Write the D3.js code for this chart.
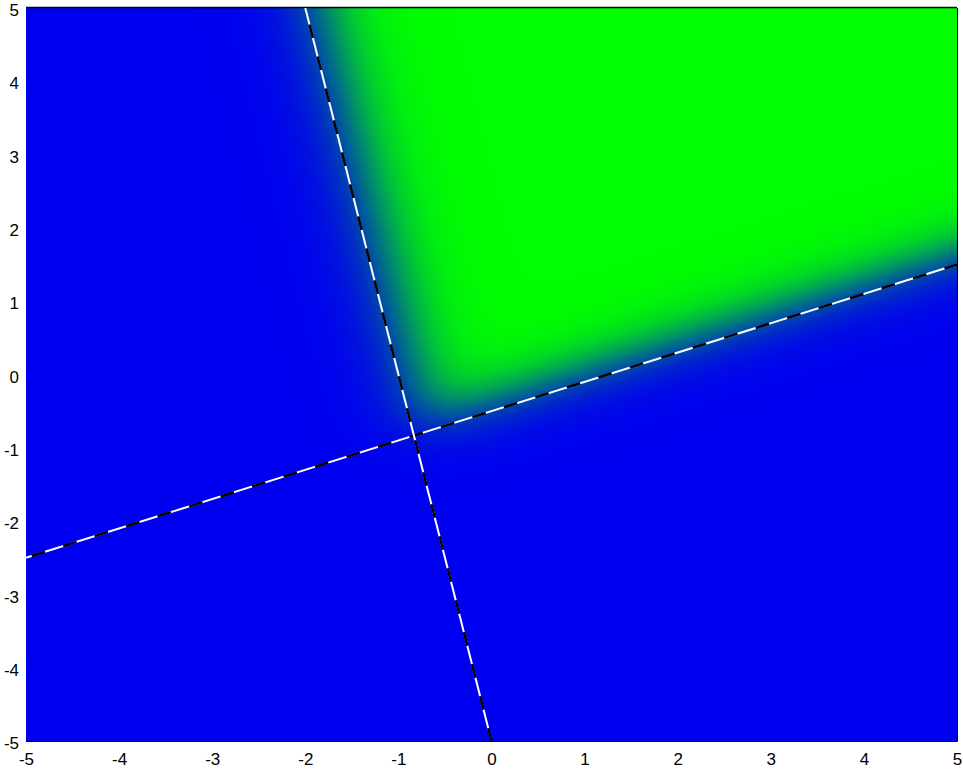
<!DOCTYPE html>
<meta charset="utf-8">
<style>
body { margin: 0; background: #fff; }
.axis text { font: 17px "Liberation Sans", Arial, sans-serif; fill: #000; }
.axis path, .axis line { stroke: #000; }
</style>
<body>
<script src="https://d3js.org/d3.v7.min.js"></script>
<script>

// tick values on both axes
const xTicks = [-5, -4, -3, -2, -1, 0, 1, 2, 3, 4, 5];
const yTicks = [-5, -4, -3, -2, -1, 0, 1, 2, 3, 4, 5];

// two hidden units: w . [x, y] + b = 0 is each dashed boundary
const hiddenW = [[-0.4, 1], [5, 1]];
const hiddenB = [0.5, 5];
const steep = [5.2, 4.6];
const shift = [0.17, 0.2];

// colours: output 0 -> blue, output 1 -> green
const lowColor = "#0000f0", highColor = "#00ff00";

const W = 963, H = 769;
const x = d3.scaleLinear().domain([-5, 5]).range([26, 957]);
const y = d3.scaleLinear().domain([-5, 5]).range([741, 8]);
const fmt = d => String(d);   // plain hyphen minus, as in the original

const svg = d3.select("body").append("svg")
    .attr("width", W).attr("height", H);

// axes first, the image sits over most of them
svg.append("g").attr("class", "axis")
    .attr("transform", "translate(0," + y(-5) + ")")
    .call(d3.axisBottom(x).tickValues(xTicks).tickFormat(fmt).tickSizeInner(-8).tickSizeOuter(0))
    .selectAll("text").attr("y", 24).attr("dy", 0);

svg.append("g").attr("class", "axis")
    .attr("transform", "translate(" + x(-5) + ",0)")
    .call(d3.axisLeft(y).tickValues(yTicks).tickFormat(fmt).tickSizeInner(-8).tickSizeOuter(0).tickPadding(7))
    .selectAll("text").attr("dy", "0.45em");

svg.append("g").attr("class", "axis")
    .attr("transform", "translate(0," + y(5) + ")")
    .call(d3.axisTop(x).tickValues(xTicks).tickSizeInner(-8).tickSizeOuter(0).tickFormat(""));
svg.append("g").attr("class", "axis")
    .attr("transform", "translate(" + x(5) + ",0)")
    .call(d3.axisRight(y).tickValues(yTicks).tickSizeInner(-8).tickSizeOuter(0).tickFormat(""));

// network output over the plane
const sigmoid = t => 1 / (1 + Math.exp(-t));
function output(px, py) {
  let p = 1;
  hiddenW.forEach((w, i) => {
    const d = (w[0] * px + w[1] * py + hiddenB[i]) / Math.hypot(w[0], w[1]);
    p *= sigmoid(steep[i] * (d - shift[i]));
  });
  return p;
}

const color = d3.interpolateRgb(lowColor, highColor);
const x0 = Math.round(x(-5)), x1 = Math.round(x(5)),
      y0 = Math.round(y(5)), y1 = Math.round(y(-5));
const cw = x1 - x0, ch = y1 - y0;
const canvas = document.createElement("canvas");
canvas.width = cw; canvas.height = ch;
const ctx = canvas.getContext("2d");
const img = ctx.createImageData(cw, ch);
for (let j = 0; j < ch; j++) {
  const py = y.invert(y0 + j + 0.5);
  for (let i = 0; i < cw; i++) {
    const px = x.invert(x0 + i + 0.5);
    const c = d3.rgb(color(output(px, py)));
    const k = 4 * (j * cw + i);
    img.data[k] = c.r; img.data[k + 1] = c.g; img.data[k + 2] = c.b; img.data[k + 3] = 255;
  }
}
ctx.putImageData(img, 0, 0);

svg.append("image")
    .attr("x", x0).attr("y", y0)
    .attr("width", cw).attr("height", ch)
    .attr("preserveAspectRatio", "none")
    .attr("href", canvas.toDataURL());

// top border stays visible above the image
svg.append("line")
    .attr("x1", x0).attr("x2", x1)
    .attr("y1", y0 - 0.5).attr("y2", y0 - 0.5)
    .attr("stroke", "#000").attr("stroke-width", 1.5);

// boundary segments clipped to the box
function boundary(i) {
  const w = hiddenW[i], b = hiddenB[i];
  if (Math.abs(w[1]) >= Math.abs(w[0]))
    return [-5, 5].map(px => [px, -(w[0] * px + b) / w[1]]);
  return [5, -5].map(py => [-(w[1] * py + b) / w[0], py]);
}
const line = d3.line().x(d => x(d[0])).y(d => y(d[1]));
const dashOffset = [27, 16];

hiddenW.forEach((w, i) => {
  const pts = boundary(i);
  svg.append("path").attr("d", line(pts))
      .attr("fill", "none").attr("stroke", "#fff").attr("stroke-width", 2);
  svg.append("path").attr("d", line(pts))
      .attr("fill", "none").attr("stroke", "#000").attr("stroke-width", 2.5)
      .attr("stroke-dasharray", "14,19").attr("stroke-dashoffset", dashOffset[i]);
});

</script>
</body>
